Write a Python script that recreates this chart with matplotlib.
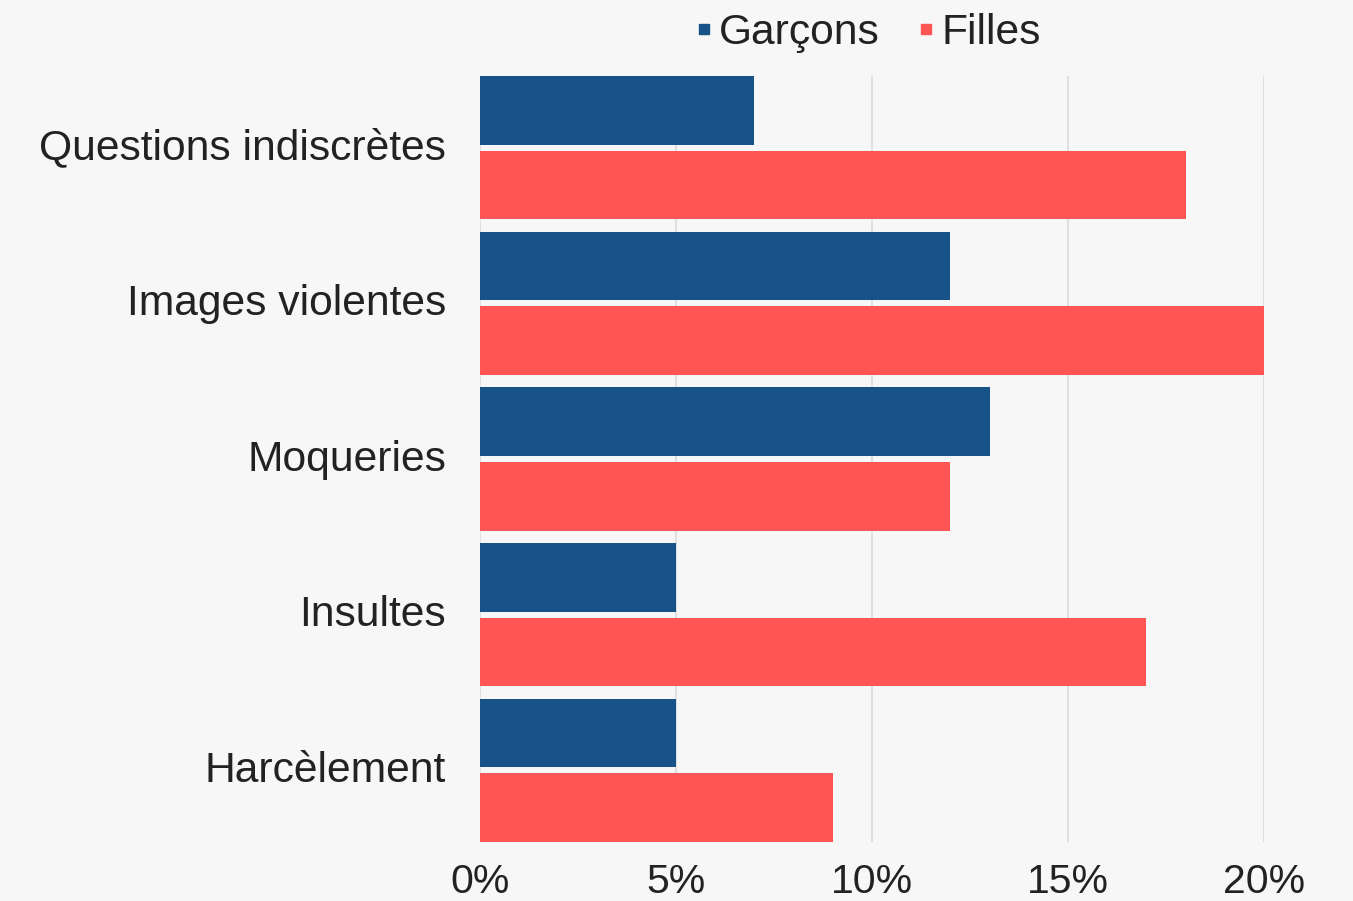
import matplotlib
matplotlib.use("Agg")
import matplotlib.pyplot as plt
from matplotlib.lines import Line2D
from matplotlib.transforms import ScaledTranslation
import numpy as np

categories = ["Questions indiscrètes", "Images violentes", "Moqueries", "Insultes", "Harcèlement"]
garcons = [7, 12, 13, 5, 5]
filles = [18, 20, 12, 17, 9]
ticks = [0, 5, 10, 15, 20]

blue = "#175388"
red = "#ff5555"
bg = "#f7f7f7"

plt.rcParams['font.family'] = ['Liberation Sans', 'DejaVu Sans']

fig = plt.figure(figsize=(13.53, 9.01), dpi=100, facecolor=bg)
ax = fig.add_axes([480/1353, 1-842/901, (1264-480)/1353, (842-76)/901])
ax.set_facecolor(bg)

y = np.arange(len(categories))
h = 0.442
off = 0.24
ax.barh(y - off, garcons, height=h, color=blue, zorder=3)
ax.barh(y + off, filles, height=h, color=red, zorder=3)

ax.set_xlim(0, 20)
ax.set_ylim(len(categories) - 1 + off + h/2, -off - h/2)
ax.set_xticks(ticks)
ax.set_xticklabels([f"{t}%" for t in ticks], fontsize=29.5, color="#222222")
ax.set_yticks(y)
ax.set_yticklabels(categories, fontsize=30.7, color="#222222")
ax.tick_params(axis='both', length=0)
ax.tick_params(axis='y', pad=24.5)
ax.tick_params(axis='x', pad=15)
# category labels sit a little above the band centre
for lab in ax.get_yticklabels():
    lab.set_transform(lab.get_transform() + ScaledTranslation(0, 0.04, fig.dpi_scale_trans))
ax.grid(axis='x', color="#dcdcdc", linewidth=1.2, zorder=0)
for s in ax.spines.values():
    s.set_visible(False)

handles = [Line2D([], [], marker='s', linestyle='none', color=blue, markersize=7),
           Line2D([], [], marker='s', linestyle='none', color=red, markersize=7)]
fig.legend(handles, ["Garçons", "Filles"], loc='center', bbox_to_anchor=(868/1353, 1-33/901),
           ncol=2, frameon=False, fontsize=30.7, handlelength=0.4, handletextpad=0.15,
           columnspacing=0.9, labelcolor="#222222")

fig.savefig("out.png", dpi=100, facecolor=bg)
